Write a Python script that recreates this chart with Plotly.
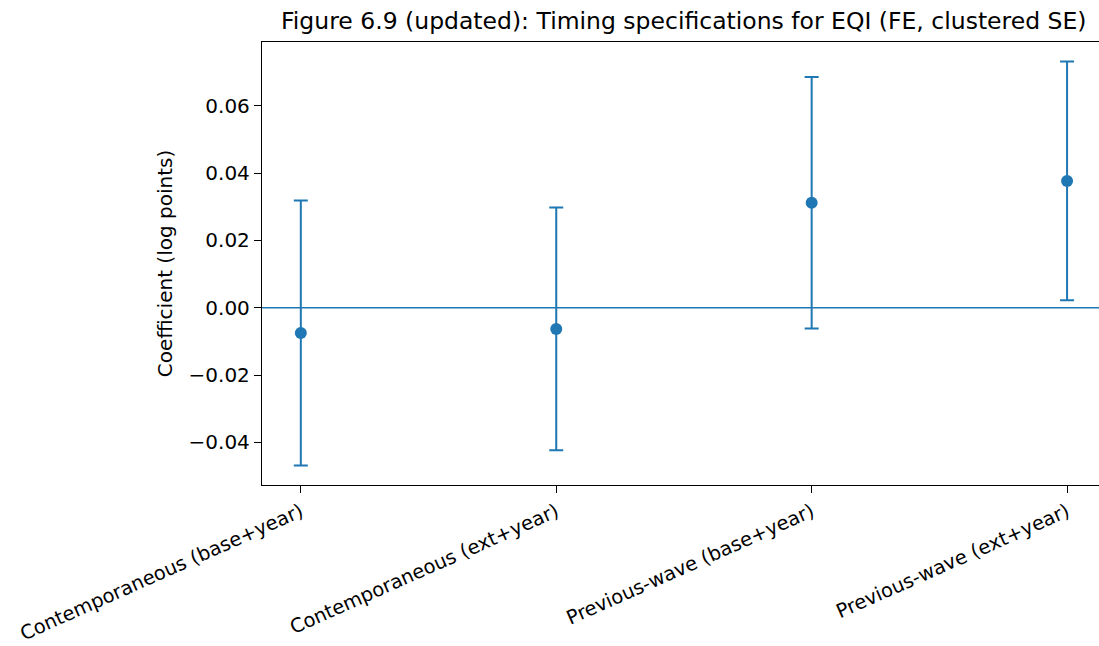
import plotly.graph_objects as go

categories = ["Contemporaneous (base+year)", "Contemporaneous (ext+year)",
              "Previous-wave (base+year)", "Previous-wave (ext+year)"]
coef = [-0.0075, -0.0063, 0.0312, 0.0377]
err = [0.0394, 0.0361, 0.0374, 0.0355]
ytick_vals = [-0.04, -0.02, 0.0, 0.02, 0.04, 0.06]
ytick_text = ["\u22120.04", "\u22120.02", "0.00", "0.02", "0.04", "0.06"]

BLUE = "#1f77b4"
FONT = "DejaVu Sans"

xpos = list(range(len(categories)))

fig = go.Figure()
fig.add_trace(go.Scatter(
    x=xpos, y=coef, mode="markers",
    marker=dict(color=BLUE, size=12),
    error_y=dict(type="data", array=err, visible=True, color=BLUE,
                 thickness=2, width=7),
    showlegend=False,
))
fig.add_hline(y=0, line=dict(color=BLUE, width=1.6))

fig.update_layout(
    width=1099, height=646,
    margin=dict(l=262, r=0, t=42, b=161),
    plot_bgcolor="white", paper_bgcolor="white",
    font=dict(family=FONT, size=20, color="black"),
    annotations=[dict(
        text="Figure 6.9 (updated): Timing specifications for EQI (FE, clustered SE)",
        xref="paper", yref="paper", x=0.5036, y=1.047,
        xanchor="center", yanchor="middle", showarrow=False,
        font=dict(family=FONT, size=23.5, color="black"),
    )],
)
fig.update_xaxes(
    range=[-0.152, 3.125], automargin=False,
    tickvals=xpos, ticktext=categories, tickangle=-24,
    showgrid=False, zeroline=False,
    showline=True, linecolor="black", linewidth=1.3, mirror=True,
    ticks="outside", ticklen=7, tickcolor="black", tickwidth=1.2,
    tickfont=dict(family=FONT, size=19.5),
)
fig.update_yaxes(
    range=[-0.0527, 0.0790], automargin=False,
    tickvals=ytick_vals, ticktext=ytick_text,
    showgrid=False, zeroline=False,
    showline=True, linecolor="black", linewidth=1.3,
    ticks="outside", ticklen=7, tickcolor="black", tickwidth=1.2,
    tickfont=dict(family=FONT, size=20),
    title=dict(text="Coefficient (log points)", font=dict(family=FONT, size=20), standoff=10),
)

fig.write_html("out.html")
